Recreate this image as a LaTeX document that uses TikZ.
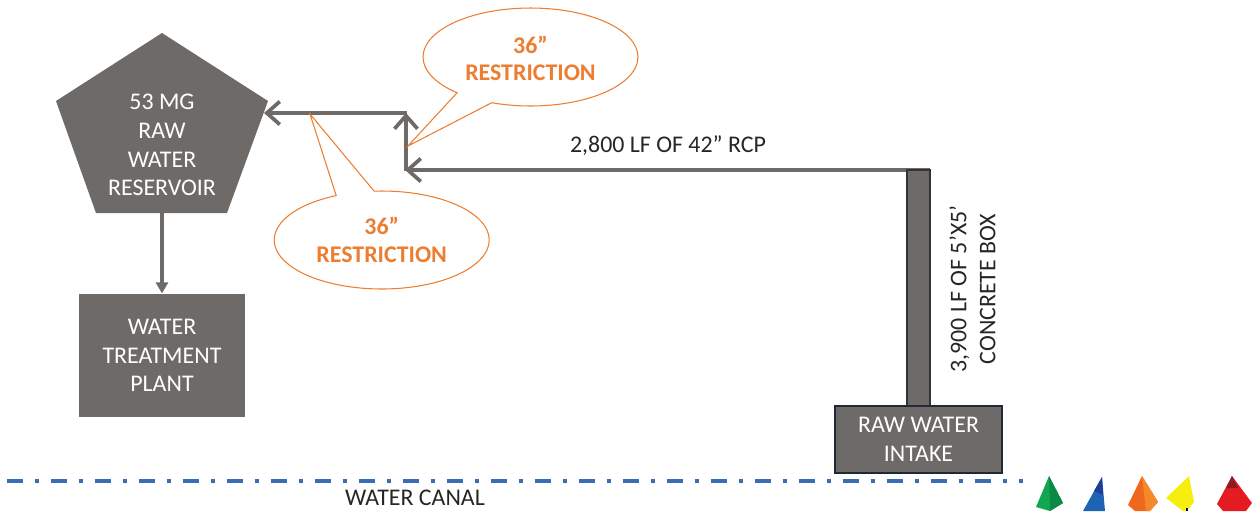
\documentclass[tikz,border=0pt]{standalone}
\usepackage{fontspec}
\setmainfont{Carlito}
\usetikzlibrary{arrows.meta, shapes.geometric, shapes.callouts}
\definecolor{slab}{HTML}{6D6A68}
\definecolor{flag}{HTML}{ED7D31}
\definecolor{canal}{HTML}{3A6DB5}
\definecolor{edgedark}{HTML}{1F2A38}
\definecolor{coneGreen}{HTML}{12A650}
\definecolor{coneGreenDk}{HTML}{0A8A42}
\definecolor{coneBlue}{HTML}{1F63B5}
\definecolor{coneBlueDk}{HTML}{1D3F9A}
\definecolor{coneOrange}{HTML}{F0681E}
\definecolor{coneOrangeLt}{HTML}{F5892A}
\definecolor{coneYellow}{HTML}{F6EE0C}
\definecolor{coneRed}{HTML}{E51B24}
\definecolor{coneRedDk}{HTML}{8E1A22}

\begin{document}
\begin{tikzpicture}[
    x=0.02cm, y=-0.02cm,
    txt/.style={font=\fontsize{13.6}{16.4}\selectfont, align=center, text=black!85},
    block/.style={txt, rectangle, fill=slab, text=white, inner sep=0pt},
    pipe/.style={-{Straight Barb[length=2.6mm, width=4.6mm]}, line width=2.1pt, slab},
    feed/.style={-{Triangle[length=2.2mm, width=2.4mm]}, line width=2.2pt, slab},
    restrict/.style={ellipse callout, draw=flag, line width=0.6pt, fill=white, text=flag,
        font=\fontsize{13.6}{15.6}\selectfont\bfseries, align=center, inner sep=0pt,
        minimum width=4.3cm, minimum height=1.96cm}
]
\useasboundingbox (0,0) rectangle (1252,511);

% === RESERVOIR AND PLANT ===
\fill[slab] (162,33) -- (268,101) -- (227,213) -- (96,213) -- (56,101) -- cycle;
\node[txt, text=white] (reservoir) at (162,145) {53 MG\\RAW\\WATER\\RESERVOIR};
\coordinate (resOutlet) at (162,213);
\coordinate (resInlet) at (264,113);
\node[block, minimum width=3.32cm, minimum height=2.47cm] (plant) at (162,355.5) {WATER\\TREATMENT\\PLANT};
\draw[feed] (resOutlet) -- (plant.north);

% === PIPE RUN ===
\coordinate (rcpStart) at (930,170);
\coordinate (rcpEnd) at (405,170);
\coordinate (riserBase) at (406,171);
\coordinate (riserTop) at (406,113);
\coordinate (riserCorner) at (407,113);
\draw[pipe] (rcpStart) -- (rcpEnd);
\draw[pipe] (riserBase) -- (riserTop);
\draw[pipe] (riserCorner) -- (resInlet);
\node[txt] (rcpLabel) at (668,146) {2,800 LF OF 42” RCP};

% === INTAKE AND BOX CULVERT ===
\node[block, draw=black!80, line width=0.9pt, minimum width=0.46cm, minimum height=4.72cm] (culvert) at (918.5,288) {};
\node[block, draw=edgedark, line width=0.8pt, minimum width=3.34cm, minimum height=1.34cm] (intake) at (918.5,439.5) {RAW WATER\\INTAKE};
\node[txt, rotate=90] (culvertLabel) at (972.5,289) {3,900 LF OF 5’X5’\\CONCRETE BOX};

% === RESTRICTION CALLOUTS ===
\coordinate (upperTip) at (408,146);
\coordinate (lowerTip) at (310,114);
\node[restrict, callout absolute pointer={(upperTip)}, callout pointer arc=22] (upperFlag) at (530.5,57) {\rule{0pt}{11.5pt}36”\\RESTRICTION};
\node[restrict, callout absolute pointer={(lowerTip)}, callout pointer arc=21] (lowerFlag) at (381.7,240) {36”\\RESTRICTION};

% === CANAL ===
\coordinate (canalStart) at (7,481);
\coordinate (canalEnd) at (1023,481);
\draw[canal, line width=2.2pt, dash pattern=on 0.32cm off 0.24cm on 0.08cm off 0.24cm] (canalStart) -- (canalEnd);
\node[txt, inner sep=0pt] (canalLabel) at (415,498) {WATER CANAL};

% === CONES ===
\fill[coneGreen] (1049,476) -- (1036,507) -- (1050,511) -- (1063,503) -- cycle;
\fill[coneGreenDk] (1049,476) -- (1050,511) -- (1063,503) -- cycle;
\fill[coneBlue] (1102,477) -- (1083,511) -- (1105,511) -- cycle;
\fill[coneBlueDk] (1102,477) -- (1094,491) -- (1103,495) -- cycle;
\fill[coneOrange] (1142,476) -- (1128,505) -- (1135,511) -- (1150,511) -- (1158,502) -- cycle;
\fill[coneOrangeLt] (1142,476) -- (1146,511) -- (1150,511) -- (1158,502) -- cycle;
\fill[coneYellow] (1189,476) -- (1166,498) -- (1183,511) -- (1187,511) -- (1194,502) -- cycle;
\draw[blue!40!black, line width=0.6pt] (1187,508) -- (1187,511);
\fill[coneRed] (1232,476) -- (1217,504) -- (1223,511) -- (1246,511) -- (1252,503) -- cycle;
\fill[coneRedDk] (1232,476) -- (1226,488) -- (1238,488) -- cycle;
\end{tikzpicture}
\end{document}
